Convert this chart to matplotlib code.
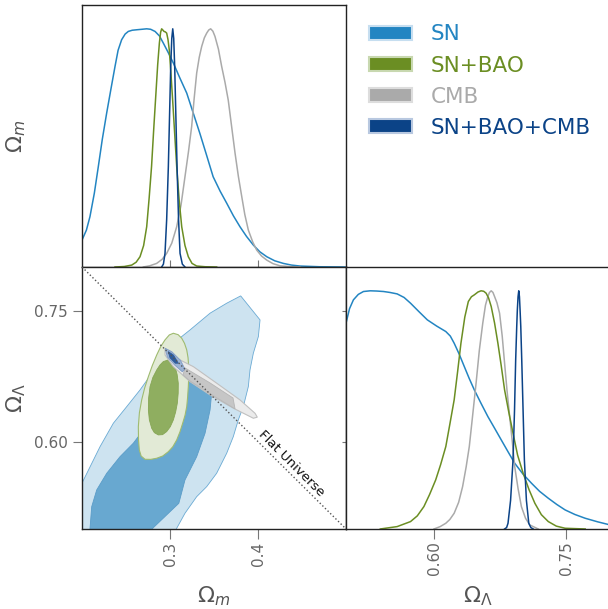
import matplotlib.pyplot as plt
from matplotlib.patches import Patch

names = ['SN', 'SN+BAO', 'CMB', 'SN+BAO+CMB']
colors = ['#2385c2', '#6b8e23', '#aaaaaa', '#0b4387']

# 1D marginals of Omega_m (peak height = 1)
om_sn_x = [.2, .205, .209, .214, .2185, .223, .228, .233, .2375, .241, .245, .249, .2526, .257,
           .2622, .268, .2735, .278, .283, .288, .2924, .298, .3038, .311, .319, .3265, .334,
           .3415, .349, .357, .3644, .372, .3795, .387, .3947, .402, .41, .419, .4288, .438,
           .4477, .47, .4989]
om_sn_y = [.113, .155, .211, .31, .421, .535, .646, .75, .842, .91, .954, .978, .989, .994,
           .996, .998, 1.0, .998, .989, .97, .94, .90, .856, .795, .73, .645, .56,
           .47, .379, .318, .268, .215, .169, .128, .092, .064, .043, .026, .015, .008,
           .004, .001, 0]
om_bao_x = [.2375, .248, .2565, .2615, .2659, .27, .2735, .2763, .279, .2815, .284, .286, .2879,
            .2893, .2905, .2918, .2932, .2947, .2962, .2977, .2992, .3011, .303, .3053, .3076,
            .3104, .3133, .317, .3208, .325, .3303, .34, .353]
om_bao_y = [0, .002, .008, .02, .043, .09, .169, .29, .421, .58, .73, .85, .94,
            .985, 1.0, .995, .989, .987, .982, .955, .91, .81, .70, .56, .421,
            .28, .169, .09, .043, .015, .004, .001, 0]
om_cmb_x = [.2697, .277, .2848, .291, .2962, .302, .3076, .3125, .317, .321, .3246, .3275, .3303,
            .3332, .336, .339, .3417, .344, .3462, .3487, .3511, .355, .3587, .3625, .3662, .37,
            .3739, .3777, .3815, .385, .389, .394, .3985, .404, .4099, .417, .425, .435, .4477]
om_cmb_y = [0, .005, .015, .032, .057, .1, .169, .26, .379, .485, .59, .71, .814,
            .88, .926, .962, .982, .995, 1.0, .99, .968, .915, .842, .775, .70, .59,
            .478, .38, .296, .22, .155, .105, .071, .046, .029, .014, .005, .002, 0]
om_all_x = [.2905, .2925, .2943, .2962, .2981, .2995, .3008, .302, .3031, .3042, .3053, .3066,
            .308, .3097, .3114, .314, .317]
om_all_y = [0, .012, .057, .2, .421, .64, .842, .96, 1.0, .96, .842, .64,
            .421, .2, .057, .012, 0]

# 1D marginals of Omega_Lambda (peak height = 1)
ol_sn_x = [.5, .504, .5084, .514, .5198, .5275, .535, .5427, .55, .5581, .566, .5733, .583,
           .5924, .603, .6134, .6185, .6229, .6285, .6344, .64, .6458, .6535, .6612, .669,
           .6764, .684, .6917, .701, .7108, .72, .7299, .7395, .749, .76, .7718, .786, .8001]
ol_sn_y = [.864, .925, .962, .985, .997, 1.0, .999, .997, .993, .987, .972, .948, .912,
           .878, .852, .829, .81, .78, .735, .682, .632, .584, .527, .472, .422,
           .374, .325, .276, .231, .192, .158, .129, .103, .08, .061, .045, .03, .017]
ol_bao_x = [.539, .5581, .5733, .581, .5885, .595, .6019, .6075, .6134, .618, .6229, .6268,
            .6306, .635, .639, .6425, .6458, .65, .6535, .6565, .6592, .662, .665, .6688,
            .6726, .6764, .6802, .685, .6898, .695, .7013, .708, .7146, .722, .7299, .739,
            .749, .7718]
ol_bao_y = [0, .01, .031, .055, .094, .145, .206, .27, .346, .44, .542, .66,
            .78, .89, .955, .975, .983, .995, 1.0, .998, .99, .97, .934, .865,
            .78, .685, .584, .49, .402, .31, .234, .165, .108, .06, .031, .012,
            .003, 0]
ol_cmb_x = [.6, .607, .6134, .618, .6229, .628, .6325, .6365, .6401, .644, .6478, .6515, .6554,
            .6585, .6612, .663, .665, .667, .6688, .6715, .6745, .6775, .6802, .683, .686,
            .689, .6917, .6955, .6993, .704, .7088, .7184]
ol_cmb_y = [0, .01, .024, .04, .066, .112, .178, .26, .346, .48, .612, .75, .864,
            .94, .976, .993, 1.0, .993, .976, .95, .906, .81, .696, .58, .472,
            .365, .262, .17, .094, .045, .017, 0]
ol_all_x = [.6802, .6825, .6841, .687, .6898, .6915, .6928, .694, .6947, .6955, .6963, .6971,
            .6978, .6986, .6997, .7012, .7027, .705, .7077, .71, .7127]
ol_all_y = [0, .006, .024, .12, .29, .5, .71, .85, .92, .975, 1.0, .975,
            .92, .85, .71, .5, .29, .12, .024, .006, 0]

# 2D contours (Omega_m, Omega_Lambda)
sn_outer = [(.19, .552), (.2008, .5542), (.2205, .5943), (.2356, .6211), (.2508, .6401),
            (.2659, .6592), (.2849, .6859), (.3038, .7127), (.3227, .7279), (.3455, .7471),
            (.3644, .7585), (.3803, .7669), (.4023, .7394), (.4004, .7203), (.3947, .7013),
            (.3909, .6821), (.389, .663), (.3833, .6401), (.3776, .6249), (.3719, .6057),
            (.3644, .5867), (.353, .5638), (.3417, .5485), (.3303, .537), (.317, .518),
            (.3076, .5008), (.305, .49), (.19, .49)]
sn_inner = [(.209, .49), (.2091, .5008), (.211, .5255), (.2167, .5447), (.2281, .5638),
            (.2432, .5828), (.2583, .5982), (.2697, .6134), (.281, .663), (.2962, .6898),
            (.3114, .6936), (.3303, .6821), (.3455, .6592), (.3473, .6554), (.3455, .6363),
            (.3398, .6096), (.3303, .5828), (.317, .5561), (.31, .5294), (.2803, .5008),
            (.279, .49)]
bao_outer = [(.3038, .7241), (.3092, .7225), (.3133, .7184), (.3165, .7125), (.319, .705),
             (.3205, .696), (.3212, .6859), (.3213, .675), (.3208, .663), (.32, .651),
             (.319, .6401), (.3171, .6303), (.3144, .6211), (.3113, .6112), (.3076, .6019),
             (.3032, .5942), (.2981, .5885), (.2918, .5836), (.2849, .581), (.2781, .5797),
             (.2716, .5798), (.2672, .5835), (.2651, .5905), (.2642, .602), (.264, .6172),
             (.2652, .633), (.2678, .6478), (.2712, .6615), (.2754, .6745), (.2799, .6872),
             (.2849, .6993), (.2895, .709), (.2943, .7165), (.2992, .7222)]
bao_inner = [(.2981, .6936), (.3025, .6912), (.3057, .6859), (.3081, .6768), (.3094, .6669),
             (.3093, .6555), (.3083, .644), (.3064, .634), (.3038, .6249), (.3003, .6171),
             (.2962, .6115), (.2915, .608), (.2867, .6077), (.2822, .6103), (.2792, .6153),
             (.2765, .625), (.2754, .6363), (.2757, .65), (.2773, .663), (.2805, .6735),
             (.2849, .6821), (.2886, .6878), (.2924, .6917)]
cmb_outer = [(.2943, .7058), (.3076, .6955), (.3265, .6859), (.3531, .6669), (.3795, .6478),
             (.3966, .6325), (.3992, .628), (.3947, .6268), (.372, .6383), (.3455, .6535),
             (.3227, .6687), (.3038, .6859), (.2943, .6993)]
cmb_inner = [(.317, .6844), (.3455, .6672), (.3716, .65), (.3739, .6375), (.3477, .6535),
             (.3227, .6695), (.3148, .6764)]
all_outer = [(.2943, .707), (.302, .703), (.312, .693), (.317, .683), (.314, .680),
             (.305, .688), (.297, .697)]
all_inner = [(.298, .7031), (.304, .699), (.3094, .6898), (.306, .6898), (.30, .696)]

flat_om = [0.2, 0.5]
flat_ol = [0.8, 0.5]

om_ticks = [0.3, 0.4]
om_labels = ['0.3', '0.4']
ol_ticks = [0.60, 0.75]
ol_labels = ['0.60', '0.75']

spine_c = '#222222'
tick_c = '#777777'
lab_c = '#666666'

fig = plt.figure(figsize=(6.08, 6.09), dpi=100)
ax_top = fig.add_axes([0.1349, 0.5616, 0.4342, 0.4302])
ax_2d = fig.add_axes([0.1349, 0.1314, 0.4342, 0.4302])
ax_r = fig.add_axes([0.5691, 0.1314, 0.4342, 0.4302])

for ax in (ax_top, ax_2d, ax_r):
    for s in ax.spines.values():
        s.set_color(spine_c)
        s.set_linewidth(1.0)

# top: Omega_m marginals
lw = 1.1
ax_top.plot(om_sn_x, om_sn_y, color=colors[0], lw=lw)
ax_top.plot(om_cmb_x, om_cmb_y, color=colors[2], lw=lw)
ax_top.plot(om_bao_x, om_bao_y, color=colors[1], lw=lw)
ax_top.plot(om_all_x, om_all_y, color=colors[3], lw=lw)
ax_top.set_xlim(0.2, 0.5)
ax_top.set_ylim(0, 1.1)
ax_top.set_xticks(om_ticks)
ax_top.set_xticklabels([])
ax_top.set_yticks([])
ax_top.tick_params(axis='x', direction='inout', length=10, color=tick_c)
ax_top.set_ylabel(r'$\Omega_m$', fontsize=16, color='#555555')
ax_top.yaxis.set_label_coords(-0.205, 0.5)

# right: Omega_Lambda marginals
ax_r.plot(ol_sn_x, ol_sn_y, color=colors[0], lw=lw)
ax_r.plot(ol_cmb_x, ol_cmb_y, color=colors[2], lw=lw)
ax_r.plot(ol_bao_x, ol_bao_y, color=colors[1], lw=lw)
ax_r.plot(ol_all_x, ol_all_y, color=colors[3], lw=lw)
ax_r.set_xlim(0.5, 0.8)
ax_r.set_ylim(0, 1.1)
ax_r.set_xticks(ol_ticks)
ax_r.set_xticklabels(ol_labels, rotation=90)
ax_r.set_yticks([])
ax_r.tick_params(axis='x', direction='out', length=7, pad=2, color=tick_c,
                 labelcolor=lab_c, labelsize=11)
ax_r.set_xlabel(r'$\Omega_\Lambda$', fontsize=16, color='#555555')
ax_r.xaxis.set_label_coords(0.5, -0.21)

# 2D panel
ax_2d.fill(*zip(*sn_outer), facecolor='#cde3f0', edgecolor='#6aaad4', lw=0.6, zorder=1)
ax_2d.fill(*zip(*sn_inner), facecolor='#68a8d0', edgecolor='#5a9cc8', lw=0.6, zorder=2)
ax_2d.fill(*zip(*bao_outer), facecolor='#e2ead6', edgecolor='#9fbb70', lw=0.8, zorder=3)
ax_2d.fill(*zip(*bao_inner), facecolor='#8fae60', edgecolor='#86a655', lw=0.6, zorder=4)
ax_2d.fill(*zip(*cmb_outer), facecolor='#ebebeb', edgecolor='#c0c0c0', lw=0.8, zorder=5)
ax_2d.fill(*zip(*cmb_inner), facecolor='#c6c6c6', edgecolor='#b5b5b5', lw=0.6, zorder=6)
ax_2d.fill(*zip(*all_outer), facecolor='#9cb3d4', edgecolor='#7f9cc6', lw=0.6, zorder=7)
ax_2d.fill(*zip(*all_inner), facecolor='#2f5d9c', edgecolor='#2f5d9c', lw=0.6, zorder=8)
ax_2d.plot(flat_om, flat_ol, ls=':', color='#555555', lw=1.0, zorder=9)
ax_2d.text(0.4375, 0.5745, 'Flat Universe', rotation=-45, rotation_mode='anchor',
           ha='center', va='center', fontsize=9.5, color='#111111', zorder=10)
ax_2d.set_xlim(0.2, 0.5)
ax_2d.set_ylim(0.5, 0.8)
ax_2d.set_xticks(om_ticks)
ax_2d.set_xticklabels(om_labels, rotation=90)
ax_2d.set_yticks(ol_ticks)
ax_2d.set_yticklabels(ol_labels)
ax_2d.tick_params(axis='x', direction='out', length=7, pad=2, color=tick_c,
                  labelcolor=lab_c, labelsize=11)
ax_2d.tick_params(axis='y', direction='out', length=6.5, pad=3.5, color=tick_c,
                  labelcolor=lab_c, labelsize=11)
sec = ax_2d.secondary_yaxis('right')
sec.set_yticks(ol_ticks)
sec.set_yticklabels([])
sec.tick_params(direction='in', length=3, color=tick_c)
sec.spines['right'].set_color(spine_c)
ax_2d.set_xlabel(r'$\Omega_m$', fontsize=16, color='#555555')
ax_2d.xaxis.set_label_coords(0.5, -0.21)
ax_2d.set_ylabel(r'$\Omega_\Lambda$', fontsize=16, color='#555555')
ax_2d.yaxis.set_label_coords(-0.205, 0.5)

edges = ['#c6def0', '#c8d8b0', '#dddddd', '#b8c8e0']
handles = [Patch(facecolor=c, edgecolor=e, lw=1.5) for c, e in zip(colors, edges)]
leg = fig.legend(handles, names, loc='upper left', bbox_to_anchor=(0.607, 0.96),
                 frameon=False, fontsize=15.5, handlelength=2.0, handleheight=0.62,
                 handletextpad=0.85, labelspacing=0.52, borderpad=0, borderaxespad=0)
for t, c in zip(leg.get_texts(), colors):
    t.set_color(c)

fig.savefig('out.png', dpi=100)
